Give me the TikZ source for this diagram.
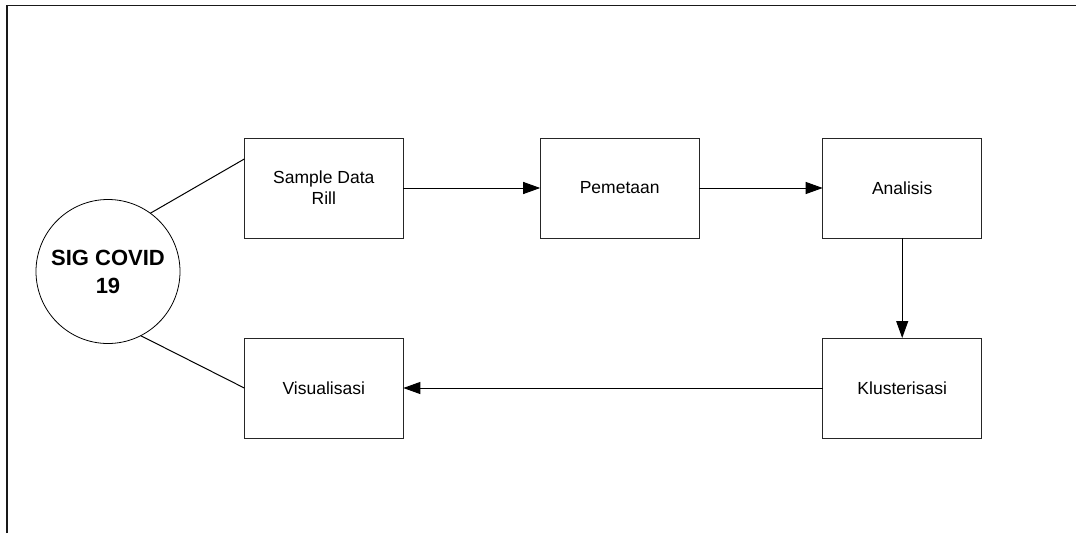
\documentclass[tikz,border=0pt]{standalone}
\usepackage{fontspec}
\setmainfont{Liberation Sans}
\usetikzlibrary{arrows.meta,calc}
\begin{document}
\begin{tikzpicture}[x=1pt,y=-1pt,
  box/.style={draw=black!85,line width=1pt,rectangle,minimum width=159pt,minimum height=100pt,
    align=center,inner sep=0pt,outer sep=0pt,font=\fontsize{17.5}{21}\selectfont},
  conn/.style={draw=black,line width=1pt},
  arr/.style={conn,-{Triangle[length=17pt,width=12pt]}},
  frame/.style={draw=black!90,line width=1.6pt}]
\useasboundingbox (0,0) rectangle (1076,533);
\draw[frame] (6.7,533) -- (6.7,5.3) -- (1076,5.3);
\node[draw=black,line width=0.8pt,circle,minimum size=144pt,inner sep=0pt,outer sep=0pt,
  align=center,font=\bfseries\fontsize{22}{28}\selectfont] (c) at (108,271.5) {SIG COVID\\19};
\node[box] (s) at (323.8,188) {Sample Data\\Rill};
\node[box] (p) at (619.7,188) {Pemetaan};
\node[box] (a) at (902.2,188) {Analisis};
\node[box] (k) at (902.2,388) {Klusterisasi};
\node[box] (v) at (323.8,388) {Visualisasi};
\coordinate (sl) at ($(s.north west)+(0,21)$);
\draw[conn] (c.54.9) -- (sl);
\draw[conn] (c.-63.3) -- (v.west);
\draw[arr] (s.east) -- (p.west);
\draw[arr] (p.east) -- (a.west);
\draw[arr] (a.south) -- (k.north);
\draw[arr] (k.west) -- (v.east);
\end{tikzpicture}
\end{document}
